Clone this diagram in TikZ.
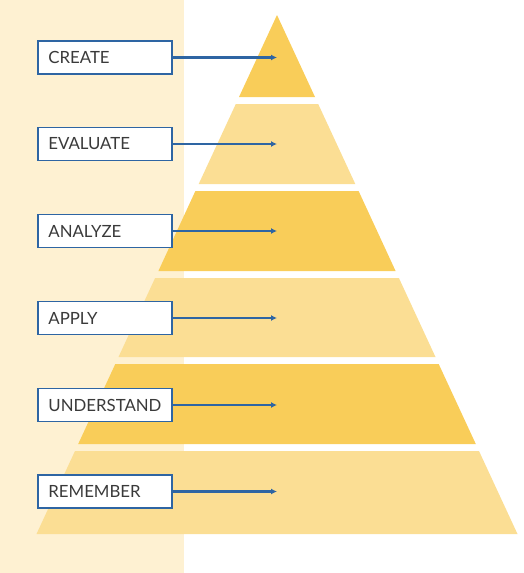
\documentclass[tikz,border=0pt]{standalone}
\usepackage{fontspec}
\setmainfont{Lato}
\usepackage{xcolor}
\usetikzlibrary{arrows.meta}

\definecolor{bgcol}{HTML}{FEF1D2}
\definecolor{darkband}{HTML}{F9CD59}
\definecolor{lightband}{HTML}{FBDE94}
\definecolor{linkblue}{HTML}{2E65A3}
\definecolor{textgray}{HTML}{3A3A3A}

\begin{document}
\begin{tikzpicture}[
  x=1pt, y=-1pt,
  >={Latex[length=6pt,width=6pt]},
  level/.style={draw=linkblue, line width=1.8pt, fill=white, anchor=west, align=left,
    text width=113pt, inner xsep=10.5pt, inner ysep=0pt, minimum height=33pt,
    text=textgray, font=\fontsize{16.8}{19}\selectfont},
  line/.style={->, draw=linkblue, line width=2.2pt}
]
\useasboundingbox (0,0) rectangle (524,573);
\fill[bgcol] (0,0) rectangle (184,573);

% pyramid bands, top to bottom
\fill[darkband]  (277,15) -- (315.0,97) -- (239.0,97) -- cycle;
\fill[lightband] (235.8,104) -- (318.2,104) -- (355.3,184) -- (198.7,184) -- cycle;
\fill[darkband]  (195.4,191) -- (358.6,191) -- (395.6,271) -- (158.4,271) -- cycle;
\fill[lightband] (155.1,278) -- (398.9,278) -- (435.5,357) -- (118.5,357) -- cycle;
\fill[darkband]  (115.3,364) -- (438.7,364) -- (475.8,444) -- (78.2,444) -- cycle;
\fill[lightband] (75.0,451) -- (479.0,451) -- (517.5,534) -- (36.5,534) -- cycle;

\coordinate (creatept) at (277,57.5);
\coordinate (evalpt) at (277,144);
\coordinate (analyzept) at (277,231);
\coordinate (applypt) at (277,318);
\coordinate (understpt) at (277,405);
\coordinate (rememberpt) at (277,491.5);

\node[level] (create) at (37,57.5) {CREATE};
\node[level] (evaluate) at (37,144) {EVALUATE};
\node[level] (analyze) at (37,231) {ANALYZE};
\node[level] (apply) at (37,318) {APPLY};
\node[level] (understand) at (37,405) {UNDERSTAND};
\node[level] (remember) at (37,491.5) {REMEMBER};

\draw[line] (create) -- (creatept);
\draw[line] (evaluate) -- (evalpt);
\draw[line] (analyze) -- (analyzept);
\draw[line] (apply) -- (applypt);
\draw[line] (understand) -- (understpt);
\draw[line] (remember) -- (rememberpt);

\end{tikzpicture}
\end{document}
